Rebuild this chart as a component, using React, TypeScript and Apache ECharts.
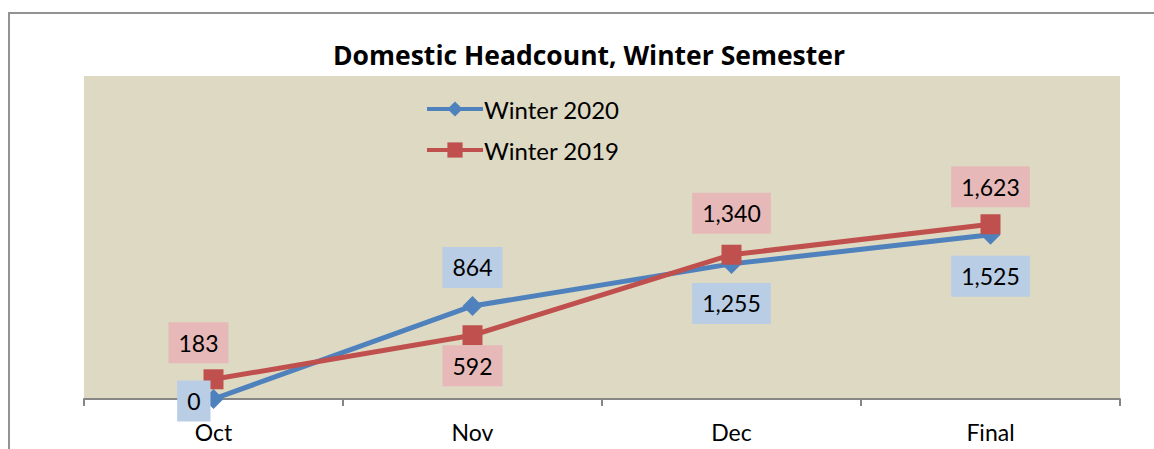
import React, { useEffect, useRef } from "react";
import * as echarts from "echarts";

const categories = ["Oct", "Nov", "Dec", "Final"];
const winter2020 = [0, 864, 1255, 1525];
const winter2019 = [183, 592, 1340, 1623];
const seriesNames = ["Winter 2020", "Winter 2019"];
const titleText = "Domestic Headcount, Winter Semester";

const FONT = "Lato, 'Noto Sans', sans-serif";

const fmt = (v: number) => v.toLocaleString("en-US");

// label placement per point (style, kept apart from values)
const place2020 = [
  { position: "left", distance: -7, offset: [0, 2] },
  { position: "top", distance: 8, offset: [0, 0] },
  { position: "bottom", distance: 9, offset: [0, 0] },
  { position: "bottom", distance: 11, offset: [0, 0] },
];
const place2019 = [
  { position: "top", distance: 6, offset: [-15, 0] },
  { position: "bottom", distance: 0, offset: [0, 0] },
  { position: "top", distance: 11, offset: [0, 0] },
  { position: "top", distance: 7, offset: [0, 0] },
];

export default function App() {
  const ref = useRef<HTMLDivElement>(null);
  useEffect(() => {
    if (!ref.current) return;
    const chart = echarts.init(ref.current, null, { renderer: "svg" });
    const mkData = (vals: number[], place: any[]) =>
      vals.map((v, i) => ({
        value: v,
        label: {
          position: place[i].position,
          distance: place[i].distance,
          offset: place[i].offset,
        },
      }));
    const labelBase = {
      show: true,
      color: "#000",
      fontFamily: FONT,
      fontSize: 23,
      lineHeight: 23,
      padding: [9, 10],
      formatter: (p: any) => fmt(p.value),
    };
    chart.setOption({
      animation: false,
      graphic: [
        {
          type: "rect",
          shape: { x: 9, y: 13, width: 1300, height: 600 },
          style: { fill: "none", stroke: "#939393", lineWidth: 2 },
          silent: true,
        },
      ],
      title: {
        text: titleText,
        left: 333,
        top: 41,
        padding: 0,
        textStyle: {
          fontFamily: "'Open Sans', Lato, sans-serif",
          fontWeight: "bold",
          fontSize: 26.5,
          color: "#000",
        },
      },
      legend: {
        orient: "vertical",
        left: 420,
        top: 92,
        itemWidth: 56,
        itemHeight: 19,
        itemGap: 17,
        textStyle: { fontFamily: FONT, fontSize: 24, color: "#000", padding: [0, 0, 0, -4] },
        lineStyle: { width: 4 },
        data: seriesNames,
      },
      grid: {
        left: 84,
        right: 34,
        top: 76,
        bottom: 50,
        show: true,
        backgroundColor: "#DDD9C3",
        borderWidth: 0,
      },
      xAxis: {
        type: "category",
        data: categories,
        boundaryGap: true,
        axisLine: { show: true, lineStyle: { color: "#868686", width: 2 } },
        axisTick: { show: true, length: 7, lineStyle: { color: "#868686", width: 2 } },
        axisLabel: {
          margin: 21,
          fontFamily: FONT,
          fontSize: 23,
          color: "#000",
        },
        splitLine: { show: false },
      },
      yAxis: {
        type: "value",
        min: 0,
        max: 3000,
        interval: 500,
        show: false,
      },
      series: [
        {
          name: seriesNames[0],
          type: "line",
          data: mkData(winter2020, place2020),
          symbol: "diamond",
          symbolSize: 20,
          lineStyle: { color: "#4F81BD", width: 5 },
          itemStyle: { color: "#4F81BD" },
          label: { ...labelBase, backgroundColor: "#B9CDE5" },
        },
        {
          name: seriesNames[1],
          type: "line",
          data: mkData(winter2019, place2019),
          symbol: "rect",
          symbolSize: 20,
          lineStyle: { color: "#C0504D", width: 5 },
          itemStyle: { color: "#C0504D" },
          label: { ...labelBase, backgroundColor: "#E6B9B8" },
        },
      ],
    });
    return () => chart.dispose();
  }, []);
  return (
    <div
      ref={ref}
      style={{ position: "absolute", left: 0, top: 0, width: 1154, height: 449 }}
    />
  );
}
